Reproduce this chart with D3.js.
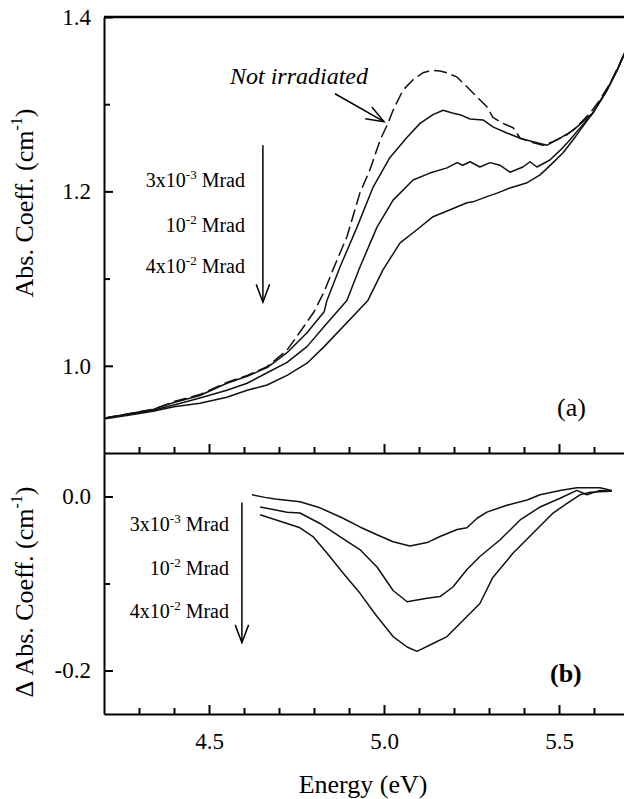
<!DOCTYPE html>
<html>
<head>
<meta charset="utf-8">
<script src="https://cdnjs.cloudflare.com/ajax/libs/d3/7.8.5/d3.min.js"></script>
<style>
  body { margin: 0; background: #fff; }
  svg { font-family: "Liberation Serif", "DejaVu Serif", serif; }
  .axis path, .axis line { stroke: #000; stroke-width: 2; }
  .axis text { font-size: 23px; fill: #000; font-family: "Liberation Serif", serif; }
  .curve { fill: none; stroke: #111; stroke-width: 1.5; stroke-linejoin: round; }
</style>
</head>
<body>
<div id="chart"></div>
<script>
// ---- data: [energy eV, value] ----
const notIrradiated = [[4.20,0.940],[4.283,0.946],[4.34,0.950],[4.40,0.959],[4.474,0.967],[4.551,0.981],[4.609,0.989],[4.666,0.999],[4.723,1.018],[4.771,1.045],[4.80,1.062],[4.829,1.085],[4.854,1.110],[4.894,1.148],[4.931,1.198],[4.96,1.225],[4.989,1.259],[5.009,1.276],[5.026,1.293],[5.054,1.316],[5.083,1.328],[5.111,1.336],[5.137,1.339],[5.16,1.338],[5.18,1.336],[5.209,1.331],[5.237,1.320],[5.269,1.307],[5.294,1.297],[5.311,1.285],[5.34,1.278],[5.369,1.273],[5.389,1.261],[5.417,1.257],[5.454,1.253],[5.483,1.257],[5.523,1.265],[5.551,1.274],[5.589,1.290],[5.617,1.305],[5.646,1.324],[5.674,1.347],[5.70,1.37]];

const irr3e3 = [[4.20,0.940],[4.283,0.946],[4.34,0.950],[4.40,0.958],[4.474,0.966],[4.551,0.980],[4.609,0.988],[4.666,0.998],[4.723,1.015],[4.78,1.038],[4.829,1.062],[4.837,1.075],[4.874,1.113],[4.923,1.159],[4.969,1.205],[5.017,1.239],[5.066,1.262],[5.103,1.278],[5.14,1.288],[5.169,1.293],[5.195,1.290],[5.217,1.288],[5.246,1.283],[5.283,1.282],[5.311,1.274],[5.351,1.267],[5.389,1.261],[5.426,1.257],[5.466,1.253],[5.503,1.261],[5.54,1.270],[5.597,1.290],[5.637,1.316],[5.666,1.339],[5.70,1.37]];

const irr1e2 = [[4.20,0.940],[4.283,0.945],[4.34,0.949],[4.40,0.955],[4.474,0.963],[4.551,0.972],[4.609,0.980],[4.666,0.992],[4.723,1.004],[4.78,1.022],[4.829,1.045],[4.894,1.075],[4.931,1.113],[4.98,1.159],[5.026,1.190],[5.083,1.213],[5.131,1.221],[5.18,1.227],[5.209,1.233],[5.225,1.230],[5.246,1.234],[5.274,1.228],[5.303,1.233],[5.331,1.230],[5.36,1.222],[5.397,1.228],[5.417,1.234],[5.437,1.228],[5.474,1.236],[5.503,1.247],[5.531,1.259],[5.554,1.270],[5.597,1.290],[5.637,1.316],[5.666,1.339],[5.70,1.37]];

const irr4e2 = [[4.20,0.939],[4.283,0.944],[4.34,0.948],[4.40,0.953],[4.474,0.957],[4.551,0.964],[4.609,0.972],[4.666,0.978],[4.723,0.989],[4.78,1.003],[4.829,1.022],[4.954,1.075],[4.997,1.110],[5.046,1.141],[5.094,1.156],[5.14,1.171],[5.189,1.179],[5.237,1.187],[5.254,1.188],[5.294,1.194],[5.323,1.198],[5.36,1.204],[5.409,1.210],[5.446,1.219],[5.483,1.233],[5.511,1.244],[5.54,1.259],[5.56,1.270],[5.597,1.290],[5.637,1.316],[5.666,1.339],[5.70,1.37]];

const diff3e3 = [[4.623,0.002],[4.66,-0.001],[4.689,-0.003],[4.76,-0.006],[4.817,-0.013],[4.883,-0.025],[4.931,-0.035],[4.98,-0.044],[5.026,-0.052],[5.074,-0.057],[5.123,-0.053],[5.16,-0.046],[5.209,-0.038],[5.237,-0.036],[5.266,-0.025],[5.294,-0.018],[5.351,-0.010],[5.409,-0.004],[5.446,0.002],[5.503,0.007],[5.551,0.010],[5.617,0.010],[5.651,0.007]];

const diff1e2 = [[4.646,-0.012],[4.723,-0.018],[4.76,-0.019],[4.817,-0.031],[4.874,-0.046],[4.931,-0.061],[4.98,-0.081],[5.026,-0.108],[5.066,-0.121],[5.123,-0.117],[5.16,-0.115],[5.197,-0.104],[5.237,-0.084],[5.274,-0.069],[5.331,-0.050],[5.389,-0.027],[5.446,-0.012],[5.503,-0.002],[5.551,0.007],[5.58,0.002],[5.617,0.007],[5.651,0.006]];

const diff4e2 = [[4.646,-0.021],[4.723,-0.031],[4.76,-0.036],[4.797,-0.046],[4.837,-0.065],[4.883,-0.088],[4.931,-0.111],[4.98,-0.138],[5.026,-0.161],[5.066,-0.173],[5.094,-0.178],[5.14,-0.169],[5.18,-0.161],[5.217,-0.146],[5.274,-0.123],[5.311,-0.093],[5.369,-0.065],[5.426,-0.042],[5.483,-0.019],[5.523,-0.008],[5.56,0.002],[5.589,0.005],[5.646,0.006]];

const xMajor = [4.5, 5.0, 5.5];
const xMinor = [4.3, 4.4, 4.6, 4.7, 4.8, 4.9, 5.1, 5.2, 5.3, 5.4, 5.6];
const yMajorA = [1.0, 1.2, 1.4];
const yMinorA = [1.1, 1.3];
const yMajorB = [0.0, -0.2];
const yMinorB = [-0.1];
const doses = [["3x10", "-3"], ["10", "-2"], ["4x10", "-2"]];

// ---- setup ----
const W = 624, H = 799;
const left = 104, right = 629;
const svg = d3.select('#chart').append('svg')
    .attr('width', W).attr('height', H);

const x = d3.scaleLinear().domain([4.2, 5.7]).range([left, right]);
const yA = d3.scaleLinear().domain([0.9, 1.4]).range([453, 17]);
const yB = d3.scaleLinear().domain([-0.25, 0.05]).range([714, 453]);

const lineA = d3.line().x(d => x(d[0])).y(d => yA(d[1]));
const lineB = d3.line().x(d => x(d[0])).y(d => yB(d[1]));

// top frame line
svg.append('line').attr('x1', left).attr('x2', right).attr('y1', yA(1.4)).attr('y2', yA(1.4))
    .attr('stroke', '#000').attr('stroke-width', 2.5);

function xAxisAt(yPos, labels) {
    svg.append('g').attr('class', 'axis')
        .attr('transform', `translate(0,${yPos})`)
        .call(d3.axisBottom(x).tickValues(xMinor).tickSize(-6).tickFormat(''))
        .call(g => g.select('.domain').remove());
    const g = svg.append('g').attr('class', 'axis')
        .attr('transform', `translate(0,${yPos})`)
        .call(d3.axisBottom(x).tickValues(xMajor).tickSizeInner(-9).tickSizeOuter(0)
            .tickPadding(19).tickFormat(labels ? d3.format('.1f') : ''));
    g.select('.domain').attr('stroke-width', 2.5);
}
xAxisAt(453, false);
xAxisAt(714, true);

function yAxis(scale, majors, minors, fmt) {
    svg.append('g').attr('class', 'axis')
        .attr('transform', `translate(${left},0)`)
        .call(d3.axisLeft(scale).tickValues(minors).tickSize(-6).tickFormat(''))
        .call(g => g.select('.domain').remove());
    const g = svg.append('g').attr('class', 'axis')
        .attr('transform', `translate(${left},0)`)
        .call(d3.axisLeft(scale).tickValues(majors).tickSizeInner(-9).tickSizeOuter(0)
            .tickPadding(13).tickFormat(fmt));
    g.select('.domain').attr('stroke-width', 2.5);
}
yAxis(yA, yMajorA, yMinorA, d3.format('.1f'));
yAxis(yB, yMajorB, yMinorB, d => d === 0 ? '0.0' : d3.format('.1f')(d).replace('−', '-'));

// ---- curves ----
svg.append('path').attr('class', 'curve').attr('d', lineA(notIrradiated))
    .attr('stroke-dasharray', '13,5');
[irr3e3, irr1e2, irr4e2].forEach(s => {
    svg.append('path').attr('class', 'curve').attr('d', lineA(s));
});
[diff3e3, diff1e2, diff4e2].forEach(s => {
    svg.append('path').attr('class', 'curve').attr('d', lineB(s));
});

// ---- axis titles ----
function yTitle(cx, cy, prefix) {
    const t = svg.append('text')
        .attr('transform', `translate(${cx},${cy}) rotate(-90)`)
        .attr('text-anchor', 'middle')
        .attr('font-size', 26);
    t.append('tspan').text(prefix + 'Abs. Coeff. (cm');
    t.append('tspan').attr('dy', -11).attr('font-size', 16).text('-1');
    t.append('tspan').attr('dy', 11).text(')');
}
yTitle(33, 203, '');
yTitle(33, 592, 'Δ ');

svg.append('text').attr('x', 363).attr('y', 793).attr('text-anchor', 'middle')
    .attr('font-size', 26).text('Energy (eV)');

// ---- dose labels and arrows ----
function doseLabels(xRight, baselines) {
    doses.forEach((d, i) => {
        const t = svg.append('text').attr('x', xRight).attr('y', baselines[i])
            .attr('text-anchor', 'end').attr('font-size', 20);
        t.append('tspan').text(d[0]);
        t.append('tspan').attr('dy', -8).attr('font-size', 13).text(d[1]);
        t.append('tspan').attr('dy', 8).text(' Mrad');
    });
}
doseLabels(245, [187, 232, 273]);
doseLabels(229, [531, 575, 618]);

function arrow(x1, y1, x2, y2) {
    const ang = Math.atan2(y2 - y1, x2 - x1);
    const len = 19, spread = 0.36;
    svg.append('line').attr('x1', x1).attr('y1', y1).attr('x2', x2).attr('y2', y2)
        .attr('stroke', '#000').attr('stroke-width', 1.5);
    const p1 = [x2 - len * Math.cos(ang - spread), y2 - len * Math.sin(ang - spread)];
    const p2 = [x2 - len * Math.cos(ang + spread), y2 - len * Math.sin(ang + spread)];
    svg.append('path').attr('d', `M${p1}L${x2},${y2}L${p2}`)
        .attr('fill', 'none').attr('stroke', '#000').attr('stroke-width', 1.5);
}
arrow(x(4.654), yA(1.253), x(4.654), yA(1.073));
arrow(x(4.594), yB(-0.007), x(4.594), yB(-0.168));
arrow(x(4.86), yA(1.312), x(5.0), yA(1.280));

svg.append('text').attr('x', 230).attr('y', 84).attr('font-size', 24)
    .attr('font-style', 'italic').text('Not irradiated');

// panel labels
svg.append('text').attr('x', 557).attr('y', 416).attr('font-size', 26).text('(a)');
svg.append('text').attr('x', 550).attr('y', 682).attr('font-size', 26)
    .attr('font-weight', 'bold').text('(b)');
</script>
</body>
</html>
